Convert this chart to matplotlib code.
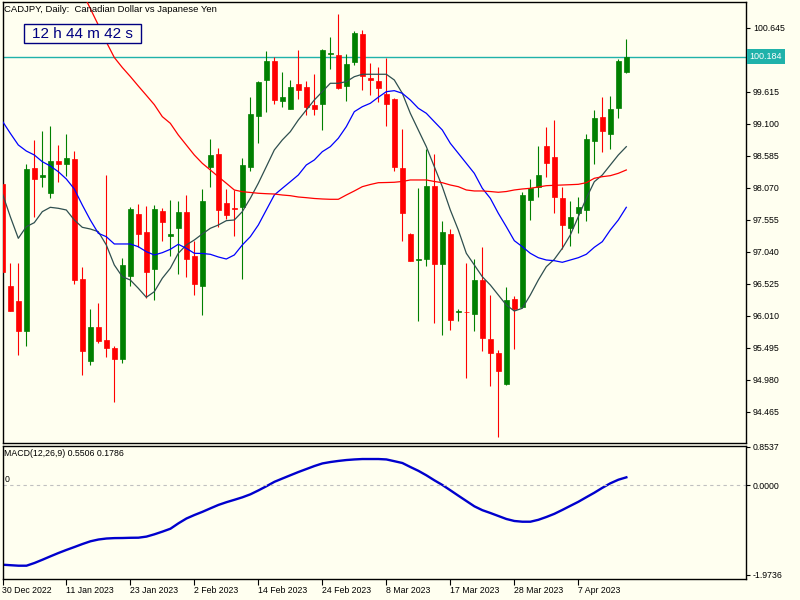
import matplotlib
matplotlib.use('Agg')
import matplotlib.pyplot as plt
import matplotlib.transforms as mtrans
from matplotlib.patches import Rectangle

plt.rcParams['font.family'] = ['Liberation Sans', 'DejaVu Sans']

# daily candles CADJPY, 30 Dec 2022 .. mid Apr 2023
opens = [98.14, 96.49, 96.25, 95.77, 98.39, 98.24, 97.99, 98.50, 98.46, 98.54,
         96.60, 95.29, 95.83, 95.62, 95.50, 95.32, 96.66, 97.65, 97.36, 96.77,
         97.70, 97.29, 97.43, 97.68, 96.98, 96.50, 98.41, 98.62, 97.83, 97.75,
         97.77, 98.40, 99.23, 99.80, 100.11, 99.47, 99.34, 99.74, 99.70, 99.41,
         99.42, 100.23, 100.21, 99.71, 100.10, 100.55, 99.84, 99.79, 99.58, 99.50,
         98.39, 97.33, 96.91, 96.93, 98.10, 96.84, 97.33, 96.07, 96.08, 96.05,
         96.59, 95.64, 95.42, 94.91, 96.28, 96.16, 97.88, 98.08, 98.75, 98.57,
         97.91, 97.42, 97.66, 97.72, 98.82, 99.21, 98.94, 99.35, 99.93]
highs = [98.20, 96.86, 96.87, 98.46, 98.84, 98.98, 99.07, 98.76, 98.94, 98.67,
         96.80, 96.12, 96.22, 98.28, 95.53, 96.94, 97.77, 97.81, 97.78, 97.80,
         97.75, 97.88, 97.86, 97.96, 97.22, 98.05, 98.86, 98.72, 98.05, 98.04,
         98.56, 99.53, 99.79, 100.28, 100.18, 99.94, 99.81, 100.29, 99.79, 99.90,
         100.31, 100.50, 100.87, 100.23, 100.60, 100.61, 100.08, 100.02, 100.16, 99.52,
         99.02, 97.35, 98.07, 98.70, 98.62, 97.54, 97.41, 96.12, 96.87, 96.93,
         97.12, 96.34, 95.47, 96.48, 96.33, 98.01, 98.22, 98.74, 99.05, 99.16,
         98.08, 97.86, 97.93, 98.94, 99.33, 99.53, 99.55, 100.15, 100.47]
lows = [96.70, 96.09, 95.38, 95.52, 97.60, 98.08, 97.91, 98.16, 98.26, 96.52,
        95.06, 95.22, 95.58, 95.35, 94.63, 95.26, 96.49, 97.12, 96.30, 96.27,
        97.22, 96.97, 96.69, 96.63, 96.35, 96.02, 98.08, 97.45, 97.57, 97.29,
        96.61, 98.35, 98.80, 99.30, 99.42, 99.37, 99.34, 99.50, 99.25, 99.25,
        99.00, 99.99, 99.66, 99.47, 100.05, 99.65, 99.57, 99.45, 99.07, 98.35,
        97.21, 96.89, 95.93, 96.82, 95.89, 95.71, 95.79, 95.93, 95.02, 95.77,
        95.45, 94.89, 94.07, 94.90, 95.48, 96.15, 97.56, 97.93, 98.24, 97.67,
        97.09, 97.14, 97.35, 97.54, 98.46, 98.65, 98.70, 99.19, 99.92]
closes = [96.72, 96.09, 95.77, 98.38, 98.22, 98.28, 98.50, 98.46, 98.55, 96.59,
          95.45, 95.83, 95.60, 95.50, 95.32, 96.83, 97.73, 97.33, 96.71, 97.73,
          97.53, 97.33, 97.68, 96.93, 96.53, 97.86, 98.60, 97.72, 97.64, 97.73,
          98.44, 99.26, 99.78, 100.11, 99.49, 99.53, 99.70, 99.65, 99.38, 99.34,
          100.29, 100.25, 99.68, 100.07, 100.57, 99.87, 99.80, 99.68, 99.42, 98.41,
          97.66, 96.90, 96.93, 98.10, 96.84, 97.36, 95.95, 96.09, 96.07, 96.59,
          95.66, 95.42, 95.13, 96.27, 96.13, 97.96, 98.07, 98.28, 98.48, 97.93,
          97.48, 97.60, 97.76, 98.86, 99.20, 98.99, 99.34, 100.11, 100.184]

# moving averages
ma_fast = [97.985, 97.608, 97.260, 97.447, 97.512, 97.689, 97.759, 97.743, 97.716, 97.555,
           97.437, 97.410, 97.367, 97.153, 96.831, 96.642, 96.589, 96.456, 96.311, 96.401,
           96.617, 96.778, 97.019, 97.153, 97.233, 97.330, 97.421, 97.474, 97.544, 97.555,
           97.689, 97.904, 98.146, 98.413, 98.682, 98.843, 98.976, 99.164, 99.325, 99.486,
           99.620, 99.755, 99.755, 99.781, 99.861, 99.900, 99.900, 99.900, 99.900, 99.808,
           99.594, 99.272, 99.003, 98.735, 98.413, 98.091, 97.716, 97.394, 97.019, 96.831,
           96.642, 96.509, 96.348, 96.187, 96.090, 96.134, 96.348, 96.589, 96.803, 96.922,
           97.099, 97.313, 97.608, 97.904, 98.171, 98.279, 98.440, 98.601, 98.735]
ma_mid = [99.148, 98.950, 98.762, 98.665, 98.601, 98.493, 98.424, 98.332, 98.215, 98.054,
          97.796, 97.555, 97.341, 97.286, 97.169, 97.169, 97.169, 97.125, 97.045, 96.992,
          97.029, 97.083, 97.164, 97.099, 97.019, 97.016, 97.003, 96.960, 96.927, 96.992,
          97.153, 97.286, 97.474, 97.716, 97.957, 98.065, 98.171, 98.279, 98.440, 98.521,
          98.654, 98.735, 98.870, 99.057, 99.298, 99.378, 99.433, 99.530, 99.620, 99.636,
          99.594, 99.486, 99.353, 99.272, 99.137, 99.003, 98.789, 98.628, 98.467, 98.306,
          98.065, 97.904, 97.663, 97.447, 97.222, 97.125, 97.019, 96.948, 96.911, 96.900,
          96.874, 96.911, 96.948, 97.003, 97.116, 97.206, 97.394, 97.555, 97.759]
ma_slow_start = 10
ma_slow = [101.224, 100.957, 100.693, 100.420, 100.170, 100.009, 99.864, 99.711, 99.562, 99.411,
           99.218, 99.111, 98.923, 98.762, 98.601, 98.467, 98.360, 98.252, 98.146, 98.038,
           98.010, 97.998, 97.985, 97.978, 97.973, 97.957, 97.946, 97.925, 97.914, 97.901,
           97.893, 97.888, 97.888, 97.957, 98.022, 98.091, 98.126, 98.155, 98.158, 98.162,
           98.175, 98.199, 98.199, 98.199, 98.175, 98.155, 98.118, 98.091, 98.038, 98.022,
           98.022, 98.013, 98.001, 98.013, 98.038, 98.054, 98.065, 98.086, 98.107, 98.113,
           98.118, 98.123, 98.129, 98.155, 98.226, 98.252, 98.268, 98.306, 98.360]

macd_signal = [-1.749, -1.760, -1.771, -1.771, -1.711, -1.639, -1.564, -1.491, -1.423, -1.359,
               -1.293, -1.233, -1.194, -1.172, -1.163, -1.161, -1.156, -1.154, -1.130, -1.079,
               -1.020, -0.956, -0.837, -0.731, -0.654, -0.584, -0.507, -0.432, -0.372, -0.319,
               -0.264, -0.198, -0.112, -0.020, 0.077, 0.150, 0.222, 0.293, 0.359, 0.425,
               0.482, 0.513, 0.537, 0.557, 0.570, 0.579, 0.579, 0.579, 0.570, 0.531,
               0.491, 0.403, 0.319, 0.220, 0.110, 0.007, -0.110, -0.229, -0.346, -0.463,
               -0.548, -0.610, -0.676, -0.742, -0.786, -0.802, -0.802, -0.760, -0.698, -0.628,
               -0.542, -0.452, -0.363, -0.262, -0.163, -0.055, 0.044, 0.123, 0.176]

date_idx = [0, 8, 16, 24, 32, 40, 48, 56, 64, 72]
date_labels = ['30 Dec 2022', '11 Jan 2023', '23 Jan 2023', '2 Feb 2023', '14 Feb 2023',
               '24 Feb 2023', '8 Mar 2023', '17 Mar 2023', '28 Mar 2023', '7 Apr 2023']
price_ticks = [94.465, 94.980, 95.495, 96.010, 96.525, 97.040, 97.555, 98.070,
               98.585, 99.100, 99.615, 100.130, 100.645]
macd_ticks = [0.8537, 0.0, -1.9736]
macd_tick_labels = ['0.8537', '0.0000', '-1.9736']
bid = 100.184

bg = '#FFFFF0'
up_col = '#008000'
dn_col = '#FF0000'

fig = plt.figure(figsize=(8, 6), dpi=100, facecolor=bg)
ax = fig.add_axes([2.5/800, 1-443/600, 743.5/800, 441/600], facecolor=bg)
ax2 = fig.add_axes([2.5/800, 1-579/600, 743.5/800, 133/600], facecolor=bg)

n = len(closes)
xs = list(range(n))

for i in xs:
    o, h, l, c = opens[i], highs[i], lows[i], closes[i]
    col = up_col if c >= o else dn_col
    ax.vlines(i, l, h, color=col, lw=0.8, zorder=3)
    lo, hi = min(o, c), max(o, c)
    ax.bar(i, max(hi-lo, 0.005), bottom=lo, width=0.6, color=col,
           edgecolor=col, lw=0.5, zorder=4)

ax.plot(xs, ma_fast, color='#2F4F4F', lw=0.9, zorder=5)
ax.plot(xs, ma_mid, color='#0000FF', lw=0.9, zorder=5)
ax.plot(list(range(ma_slow_start, ma_slow_start+len(ma_slow))), ma_slow,
        color='#FF0000', lw=0.9, zorder=5)

ax.axhline(bid, color='#20B2AA', lw=1, zorder=2)

ax.set_xlim(0.025, 92.96)
ax.set_ylim(93.966, 101.063)
ax.set_xticks([])
ax.yaxis.tick_right()
ax.set_yticks(price_ticks)
# the 100.130 label sits under the bid price box, as in the terminal
ax.set_yticklabels(['' if abs(t - 100.130) < 1e-6 else '%.3f' % t for t in price_ticks])
ax.tick_params(axis='y', direction='out', length=3, labelsize=6.3, pad=2, width=0.8)
for sp in ax.spines.values():
    sp.set_color('black')
    sp.set_linewidth(1)

trans = mtrans.blended_transform_factory(ax.transAxes, ax.transData)
ax.text(1.005, bid, '%.3f' % bid, transform=trans, ha='left', va='center',
        fontsize=6.5, color='white', zorder=10, clip_on=False,
        bbox=dict(boxstyle='square,pad=0.35', fc='#20B2AA', ec='none'))

# MACD pane
ax2.plot(xs, macd_signal, color='#0000CD', lw=1.7)
ax2.axhline(0, color='#C0C0C0', lw=0.8, ls=(0, (3, 3)))
ax2.set_xlim(0.025, 92.96)
ax2.set_ylim(-2.064, 0.866)
ax2.yaxis.tick_right()
ax2.set_yticks(macd_ticks)
ax2.set_yticklabels(macd_tick_labels)
ax2.set_xticks(date_idx)
ax2.set_xticklabels(date_labels, ha='left')
ax2.tick_params(axis='y', direction='out', length=3, labelsize=6.3, pad=2, width=0.8)
ax2.tick_params(axis='x', direction='out', length=4, labelsize=6.3, pad=1, width=0.8)
for sp in ax2.spines.values():
    sp.set_color('black')
    sp.set_linewidth(1)

fig.text(4/800, 1-10/600, 'CADJPY, Daily:  Canadian Dollar vs Japanese Yen',
         ha='left', va='center', fontsize=6.8)
fig.text(4/800, 1-454/600, 'MACD(12,26,9) 0.5506 0.1786', ha='left', va='center', fontsize=6.3)
fig.text(5/800, 1-479/600, '0', ha='left', va='center', fontsize=6.3)

fig.add_artist(Rectangle((24/800, 1-43/600), 117/800, 19/600, transform=fig.transFigure,
                         fc=bg, ec='#000080', lw=1, zorder=5))
fig.text(82.5/800, 1-33.5/600, '12 h 44 m 42 s', ha='center', va='center',
         fontsize=11, color='#000080', zorder=6)

fig.savefig('out.png', dpi=100, facecolor=bg)
